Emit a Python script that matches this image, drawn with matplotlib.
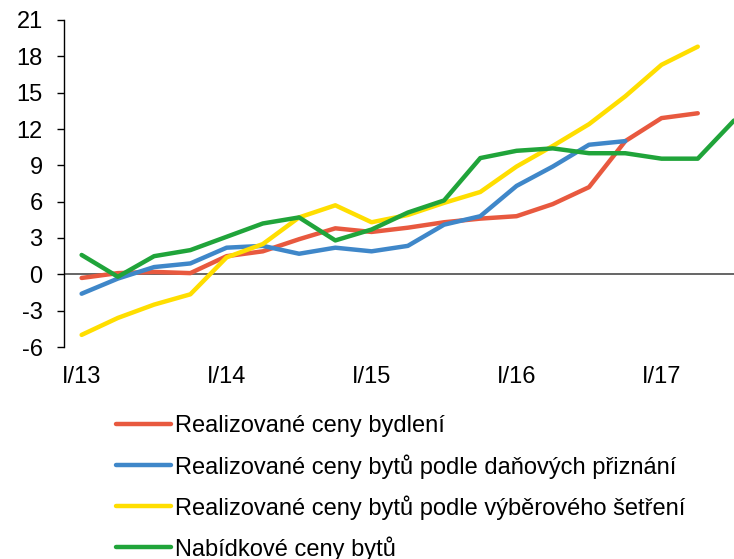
import matplotlib.pyplot as plt
import numpy as np

plt.rcParams['font.family'] = ['Liberation Sans', 'DejaVu Sans']
plt.rcParams['axes.unicode_minus'] = False

# ctvrtleti I/13 .. III/17
kvartaly = ['I/13', 'II/13', 'III/13', 'IV/13', 'I/14', 'II/14', 'III/14', 'IV/14',
            'I/15', 'II/15', 'III/15', 'IV/15', 'I/16', 'II/16', 'III/16', 'IV/16',
            'I/17', 'II/17', 'III/17']

bydleni = [-0.3, 0.1, 0.2, 0.1, 1.5, 1.9, 2.9, 3.8, 3.5, 3.85, 4.3, 4.6, 4.8, 5.8, 7.2, 11.0, 12.9, 13.3]
danove = [-1.6, -0.35, 0.6, 0.9, 2.2, 2.35, 1.7, 2.2, 1.9, 2.35, 4.1, 4.8, 7.3, 8.9, 10.7, 11.0]
setreni = [-5.0, -3.6, -2.5, -1.65, 1.4, 2.5, 4.7, 5.7, 4.3, 4.9, 5.9, 6.8, 8.9, 10.6, 12.4, 14.7, 17.3, 18.8]
nabidkove = [1.6, -0.2, 1.5, 2.0, 3.1, 4.2, 4.7, 2.8, 3.7, 5.1, 6.1, 9.6, 10.2, 10.4, 10.0, 10.0, 9.55, 9.55, 12.7]

nazvy = ['Realizované ceny bydlení',
         'Realizované ceny bytů podle daňových přiznání',
         'Realizované ceny bytů podle výběrového šetření',
         'Nabídkové ceny bytů']
barvy = ['#E8593F', '#3F87C9', '#FFDE00', '#20A43A']

fig = plt.figure(figsize=(7.34, 5.59), dpi=100)
ax = fig.add_axes([63.5/734, 1-347/559, 1-63.5/734, (347-20)/559])

ax.axhline(0, color='#595959', lw=1.3, zorder=1)
for data, lab, c in zip([bydleni, danove, setreni, nabidkove], nazvy, barvy):
    ax.plot(np.arange(len(data)), data, color=c, lw=3.2, label=lab,
            solid_capstyle='round', zorder=2)

ax.set_xlim(-0.5, 18)
ax.set_ylim(-6, 21)
ax.set_yticks(np.arange(-6, 22, 3))
ax.set_xticks(np.arange(0, len(kvartaly), 4))
ax.set_xticklabels(kvartaly[::4])
ax.tick_params(axis='x', length=0, pad=14, labelsize=17)
ax.tick_params(axis='y', length=5, width=1, direction='out', pad=10, labelsize=17)
for s in ['top', 'right', 'bottom']:
    ax.spines[s].set_visible(False)
ax.spines['left'].set_linewidth(1)

ax.legend(loc='upper left', bbox_to_anchor=(107/734, 1-406/559),
          bbox_transform=fig.transFigure, frameon=False, fontsize=17,
          handlelength=2.3, handletextpad=0.17, labelspacing=0.7,
          borderaxespad=0)

fig.savefig('out.png', dpi=100)
